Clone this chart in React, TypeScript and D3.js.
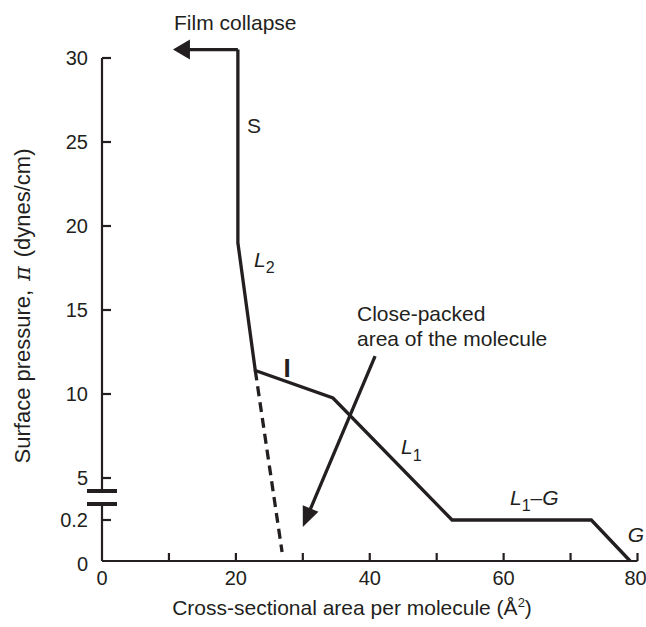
import React from "react";
import * as d3 from "d3";

// ---- data ----
const curveArea = [20.3, 20.3, 22.9, 34.5, 52.3, 73.1, 78.9];
const curvePressure = [30.5, 19.0, 11.4, 9.76, 0.2, 0.2, 0];
const collapseArea = [20.3, 10.6];
const collapsePressure = [30.5, 30.5];
const dashedArea = [22.9, 26.9];
const dashedPressure = [11.4, 0.044];
const pointerArea = [40.8, 30.0];
const pointerPressure = [12.26, 0.166];
const xTicks = [10, 20, 30, 40, 50, 60, 70, 80];
const xTickLabels = [0, 20, 40, 60, 80];
const yUpperTicks = [5, 10, 15, 20, 25, 30];
const yLowerTicks = [0.2];

const W = 646;
const H = 627;
const FONT = "'Liberation Sans', Arial, Helvetica, sans-serif";
const INK = "#231f20";

const x = d3.scaleLinear().domain([0, 80]).range([102, 637.5]);
const yUpper = d3.scaleLinear().domain([5, 30]).range([478, 58]);
const yLower = d3.scaleLinear().domain([0, 0.2]).range([561, 520]);
const y = (v: number) => (v >= 2 ? yUpper(v) : yLower(v));

const toPts = (xs: number[], ys: number[]) => xs.map((a, i) => [x(a), y(ys[i])] as [number, number]);

function arrowHead(from: [number, number], tip: [number, number], len: number, half: number) {
  const dx = tip[0] - from[0];
  const dy = tip[1] - from[1];
  const d = Math.hypot(dx, dy);
  const ux = dx / d, uy = dy / d;
  const bx = tip[0] - ux * len, by = tip[1] - uy * len;
  const px = -uy, py = ux;
  return {
    poly: `${tip[0]},${tip[1]} ${bx + px * half},${by + py * half} ${bx - px * half},${by - py * half}`,
    base: [bx + ux * 2, by + uy * 2] as [number, number],
  };
}

export default function App() {
  const line = d3.line();
  const curve = toPts(curveArea, curvePressure);
  const collapse = toPts(collapseArea, collapsePressure);
  const collapseHead = arrowHead(collapse[0], collapse[1], 17, 10);
  const dashed = toPts(dashedArea, dashedPressure);
  const pointer = toPts(pointerArea, pointerPressure);
  const pointerHead = arrowHead(pointer[0], pointer[1], 20, 8.5);

  const axisY = yLower(0);
  const breakTop = 491;
  const breakBottom = 504;

  return (
    <svg width={W} height={H} style={{ position: "absolute", left: 0, top: 0, background: "#fff" }} fontFamily={FONT}>
      {/* axes */}
      <g stroke={INK} strokeWidth={2.2} fill="none">
        <line x1={x(0)} y1={axisY} x2={x(80)} y2={axisY} />
        <line x1={x(0)} y1={axisY} x2={x(0)} y2={breakBottom} />
        <line x1={x(0)} y1={breakTop} x2={x(0)} y2={yUpper(30)} />
        {xTicks.map((t) => (
          <line key={"xt" + t} x1={x(t)} x2={x(t)} y1={axisY} y2={axisY - 8} />
        ))}
        {yUpperTicks.map((t) => (
          <line key={"yu" + t} x1={x(0)} x2={x(0) + 9} y1={yUpper(t)} y2={yUpper(t)} />
        ))}
        {yLowerTicks.map((t) => (
          <line key={"yl" + t} x1={x(0)} x2={x(0) + 9} y1={yLower(t)} y2={yLower(t)} />
        ))}
      </g>
      {/* axis break marks */}
      <g stroke={INK} strokeWidth={4}>
        <line x1={x(0) - 15} x2={x(0) + 15} y1={breakTop} y2={breakTop} />
        <line x1={x(0) - 15} x2={x(0) + 15} y1={breakBottom} y2={breakBottom} />
      </g>

      {/* tick labels */}
      <g fontSize={20} fill={INK}>
        {xTickLabels.map((t) => (
          <text key={"xl" + t} x={t === 80 ? x(t) - 2 : x(t)} y={585} textAnchor="middle">{t}</text>
        ))}
        {yUpperTicks.map((t) => (
          <text key={"yul" + t} x={88} y={yUpper(t)} textAnchor="end" dominantBaseline="central">{t}</text>
        ))}
        {yLowerTicks.map((t) => (
          <text key={"yll" + t} x={88} y={yLower(t)} textAnchor="end" dominantBaseline="central">{t}</text>
        ))}
        <text x={88} y={yLower(0) + 3} textAnchor="end" dominantBaseline="central">0</text>
      </g>

      {/* axis titles */}
      <text x={352} y={615} fontSize={21} textAnchor="middle" fill={INK}>
        Cross-sectional area per molecule (Å<tspan dy={-8} fontSize={13}>2</tspan><tspan dy={8}>)</tspan>
      </text>
      <text
        transform={`translate(22,306) rotate(-90)`}
        fontSize={22}
        textAnchor="middle"
        dominantBaseline="central"
        fill={INK}
      >
        Surface pressure,<tspan dx={9} fontStyle="italic" fontFamily="'DejaVu Serif', serif">π</tspan><tspan dx={9}>(dynes/cm)</tspan>
      </text>

      {/* isotherm */}
      <path d={line(curve) ?? ""} fill="none" stroke={INK} strokeWidth={3.3} strokeLinejoin="miter" />
      <path d={line([collapse[0], collapseHead.base]) ?? ""} fill="none" stroke={INK} strokeWidth={3.3} />
      <polygon points={collapseHead.poly} fill={INK} />
      <path d={line(dashed) ?? ""} fill="none" stroke={INK} strokeWidth={3.3} strokeDasharray="10 6" />
      <path d={line([pointer[0], pointerHead.base]) ?? ""} fill="none" stroke={INK} strokeWidth={3.3} />
      <polygon points={pointerHead.poly} fill={INK} />

      {/* annotations */}
      <g fontSize={21} fill={INK}>
        <text x={174} y={30}>Film collapse</text>
        <text x={247} y={133}>S</text>
        <text x={254} y={267}><tspan fontStyle="italic">L</tspan><tspan dy={6} fontSize={16}>2</tspan></text>
        <text x={287} y={377} fontSize={26} fontWeight="bold" textAnchor="middle">I</text>
        <text x={401} y={454}><tspan fontStyle="italic">L</tspan><tspan dy={7} fontSize={16}>1</tspan></text>
        <text x={510} y={505}>
          <tspan fontStyle="italic">L</tspan><tspan dy={6} fontSize={16}>1</tspan><tspan dy={-6}>–</tspan><tspan fontStyle="italic">G</tspan>
        </text>
        <text x={644} y={542} fontStyle="italic" textAnchor="end">G</text>
        <text x={357} y={321}>Close-packed</text>
        <text x={357} y={346}>area of the molecule</text>
      </g>
    </svg>
  );
}
